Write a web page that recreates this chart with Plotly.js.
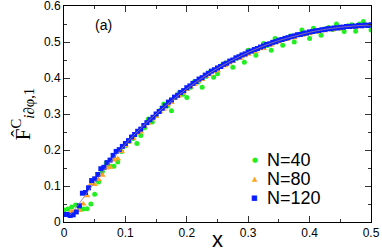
<!DOCTYPE html>
<html><head><meta charset="utf-8">
<script src="https://cdn.plot.ly/plotly-3.0.1.min.js"></script>
<style>html,body{margin:0;padding:0;background:#fff}#c{width:382px;height:252px}</style>
</head><body><div id="c"></div>
<script>
var xBlue = [0,0.005,0.01,0.015,0.02,0.025,0.03,0.035,0.04,0.045,0.05,0.055,0.06,0.065,0.07,0.075,0.08,0.085,0.09,0.095,0.1,0.105,0.11,0.115,0.12,0.125,0.13,0.135,0.14,0.145,0.15,0.155,0.16,0.165,0.17,0.175,0.18,0.185,0.19,0.195,0.2,0.205,0.21,0.215,0.22,0.225,0.23,0.235,0.24,0.245,0.25,0.255,0.26,0.265,0.27,0.275,0.28,0.285,0.29,0.295,0.3,0.305,0.31,0.315,0.32,0.325,0.33,0.335,0.34,0.345,0.35,0.355,0.36,0.365,0.37,0.375,0.38,0.385,0.39,0.395,0.4,0.405,0.41,0.415,0.42,0.425,0.43,0.435,0.44,0.445,0.45,0.455,0.46,0.465,0.47,0.475,0.48,0.485,0.49,0.495,0.5];
var yN120 = [0.021,0.021,0.018,0.020,0.028,0.045,0.080,0.082,0.095,0.115,0.120,0.132,0.148,0.152,0.165,0.172,0.185,0.196,0.201,0.210,0.218,0.226,0.236,0.243,0.252,0.258,0.268,0.276,0.284,0.291,0.300,0.307,0.316,0.323,0.333,0.339,0.347,0.352,0.360,0.365,0.373,0.378,0.385,0.390,0.397,0.401,0.408,0.413,0.419,0.423,0.428,0.432,0.438,0.441,0.447,0.450,0.456,0.459,0.464,0.467,0.472,0.475,0.479,0.482,0.486,0.489,0.493,0.495,0.499,0.501,0.505,0.507,0.510,0.512,0.515,0.517,0.520,0.521,0.524,0.525,0.528,0.529,0.531,0.532,0.534,0.535,0.537,0.537,0.539,0.539,0.541,0.541,0.543,0.543,0.544,0.544,0.546,0.545,0.547,0.546,0.548];
var xOther = [0,0.00625,0.0125,0.01875,0.025,0.03125,0.0375,0.04375,0.05,0.05625,0.0625,0.06875,0.075,0.08125,0.0875,0.09375,0.1,0.10625,0.1125,0.11875,0.125,0.13125,0.1375,0.14375,0.15,0.15625,0.1625,0.16875,0.175,0.18125,0.1875,0.19375,0.2,0.20625,0.2125,0.21875,0.225,0.23125,0.2375,0.24375,0.25,0.25625,0.2625,0.26875,0.275,0.28125,0.2875,0.29375,0.3,0.30625,0.3125,0.31875,0.325,0.33125,0.3375,0.34375,0.35,0.35625,0.3625,0.36875,0.375,0.38125,0.3875,0.39375,0.4,0.40625,0.4125,0.41875,0.425,0.43125,0.4375,0.44375,0.45,0.45625,0.4625,0.46875,0.475,0.48125,0.4875,0.49375,0.5];
var yN40 = [0.033,0.036,0.042,0.047,0.042,0.036,0.037,0.050,0.077,0.111,0.140,0.164,0.155,0.155,0.167,0.196,0.212,0.224,0.232,0.218,0.240,0.262,0.286,0.278,0.296,0.310,0.328,0.322,0.309,0.345,0.360,0.355,0.346,0.374,0.390,0.389,0.374,0.404,0.416,0.402,0.412,0.434,0.442,0.445,0.430,0.455,0.462,0.444,0.477,0.474,0.463,0.485,0.496,0.490,0.477,0.510,0.505,0.491,0.511,0.517,0.500,0.521,0.533,0.524,0.510,0.538,0.530,0.519,0.536,0.540,0.535,0.550,0.538,0.529,0.545,0.548,0.530,0.550,0.557,0.546,0.533];
var yN80 = [0.020,0.022,0.030,0.028,0.032,0.050,0.073,0.105,0.104,0.118,0.130,0.150,0.152,0.172,0.176,0.196,0.212,0.222,0.232,0.246,0.250,0.266,0.274,0.286,0.294,0.306,0.314,0.326,0.332,0.344,0.350,0.358,0.368,0.376,0.382,0.392,0.396,0.404,0.410,0.418,0.420,0.430,0.434,0.442,0.446,0.454,0.455,0.462,0.466,0.472,0.474,0.481,0.482,0.490,0.492,0.498,0.500,0.505,0.507,0.512,0.512,0.518,0.518,0.523,0.523,0.528,0.528,0.532,0.531,0.536,0.534,0.539,0.537,0.541,0.540,0.544,0.541,0.545,0.543,0.547,0.545];
var xLine = [0.01,0.025,0.05,0.075,0.1,0.125,0.15,0.175,0.2,0.225,0.25,0.275,0.3,0.325,0.35,0.375,0.4,0.425,0.45,0.475,0.5];
var yLine = [0.02,0.052,0.11,0.165,0.216,0.260,0.300,0.336,0.370,0.400,0.427,0.450,0.471,0.489,0.504,0.516,0.527,0.535,0.541,0.545,0.547];
var seriesNames = ['N=40','N=80','N=120'];
var seriesColors = ['#22ee22','#ffa520','#0a1eff'];
var legendGlyphs = ['\u25CF','\u25B2','\u25A0'];
var xTicks = [0,0.1,0.2,0.3,0.4,0.5];
var xTickText = ['0','0.1','0.2','0.3','0.4','0.5'];
var yTicks = [0,0.1,0.2,0.3,0.4,0.5,0.6];
var yTickText = ['0','0.1','0.2','0.3','0.4','0.5','0.6'];

var traces = [
 {x:xOther,y:yN40,name:seriesNames[0],mode:'markers',type:'scatter',marker:{symbol:'circle',size:5,color:seriesColors[0]}},
 {x:xOther,y:yN80,name:seriesNames[1],mode:'markers',type:'scatter',marker:{symbol:'triangle-up',size:6,color:seriesColors[1]}},
 {x:xBlue,y:yN120,name:seriesNames[2],mode:'markers',type:'scatter',marker:{symbol:'square',size:5,color:seriesColors[2]}},
 {x:xLine,y:yLine,mode:'lines',type:'scatter',showlegend:false,line:{color:'rgba(150,120,150,0.85)',width:1,shape:'spline'},hoverinfo:'skip'}
];
var sans = 'Liberation Sans, Arial, sans-serif';
var axBase = {showline:true,linecolor:'#000',linewidth:1,mirror:'ticks',ticks:'inside',ticklen:6,tickwidth:1,tickcolor:'#333',showgrid:false,zeroline:false,ticklabeloverflow:'allow',tickfont:{family:sans,size:12,color:'#000'}};
var legRowsY = [0.287,0.199,0.111];
var ann = [{text:'(a)',xref:'paper',yref:'paper',x:0.128,y:0.912,xanchor:'center',yanchor:'middle',showarrow:false,font:{family:sans,size:14,color:'#000'}}];
for (var i=0;i<3;i++){
  ann.push({text:legendGlyphs[i],xref:'paper',yref:'paper',x:0.622,y:legRowsY[i],xanchor:'center',yanchor:'middle',showarrow:false,font:{family:'DejaVu Sans, sans-serif',size:7,color:seriesColors[i]}});
  ann.push({text:seriesNames[i],xref:'paper',yref:'paper',x:0.655,y:legRowsY[i],xanchor:'left',yanchor:'middle',showarrow:false,font:{family:sans,size:18,color:'#000'}});
}
var layout = {
 width:382,height:252,margin:{l:64,r:11,t:6,b:30},paper_bgcolor:'#fff',plot_bgcolor:'#fff',
 xaxis:Object.assign({},axBase,{range:[0,0.5],tickvals:xTicks,ticktext:xTickText,minor:{dtick:0.05,ticks:'inside',ticklen:3,tickcolor:'#333'},title:{text:'x',font:{family:sans,size:22,color:'#000'},standoff:0}}),
 yaxis:Object.assign({},axBase,{range:[0,0.6000001],tickvals:yTicks,ticktext:yTickText,minor:{dtick:0.05,ticks:'inside',ticklen:3,tickcolor:'#333'},title:{text:'F\u0302<sup>C</sup><sub><i>i</i>\u2202\u03c6,1</sub>',font:{family:'Liberation Serif, Times New Roman, serif',size:21,color:'#000'},standoff:7}}),
 annotations:ann,
 showlegend:false
};
Plotly.newPlot('c',traces,layout,{staticPlot:true,displayModeBar:false});
</script></body></html>
